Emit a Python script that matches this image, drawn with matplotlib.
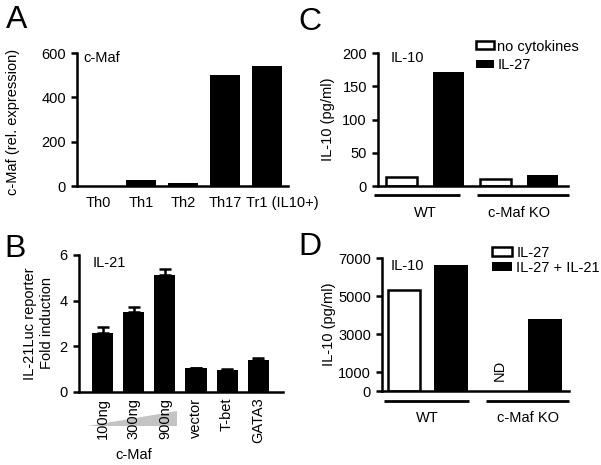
import numpy as np
import matplotlib
matplotlib.use("Agg")
import matplotlib.pyplot as plt
import matplotlib.transforms as mtransforms
from matplotlib.patches import Polygon

plt.rcParams["font.family"] = ["Liberation Sans", "DejaVu Sans"]
plt.rcParams["font.size"] = 10.5

# Panel A: c-Maf expression
cellA = ["Th0", "Th1", "Th2", "Th17", "Tr1 (IL10+)"]
valA = [2, 28, 15, 500, 540]

# Panel B: IL-21 luciferase reporter
condB = ["100ng", "300ng", "900ng", "vector", "T-bet", "GATA3"]
valB = [2.6, 3.5, 5.1, 1.05, 0.97, 1.4]
errB = [0.25, 0.22, 0.27, 0.0, 0.03, 0.1]

# Panel C: IL-10 with / without IL-27
groupsC = ["WT", "c-Maf KO"]
noCyt = [14, 10]
il27C = [171, 17]

# Panel D: IL-10, IL-27 vs IL-27 + IL-21 (KO IL-27 not detected)
groupsD = ["WT", "c-Maf KO"]
il27D = [5300, np.nan]
il27il21D = [6650, 3800]

fig = plt.figure(figsize=(6.01, 4.65), dpi=100)

def estilo(ax):
    ax.spines["top"].set_visible(False)
    ax.spines["right"].set_visible(False)
    ax.spines["left"].set_linewidth(1.8)
    ax.spines["bottom"].set_linewidth(1.8)
    ax.tick_params(axis="y", width=1.8, length=4, pad=4)
    ax.tick_params(axis="x", length=0, pad=7)

# ---------- A ----------
axA = fig.add_axes([0.128, 0.600, 0.351, 0.286])
xA = np.arange(len(cellA))
axA.bar(xA, valA, width=0.72, color="black")
axA.set_xlim(-0.52, 4.5)
axA.set_ylim(0, 600)
axA.set_yticks([0, 200, 400, 600])
axA.set_xticks(xA)
axA.set_xticklabels(cellA)
estilo(axA)
# la ultima etiqueta empieza en el borde izquierdo de la barra
ult = axA.get_xticklabels()[-1]
ult.set_horizontalalignment("left")
ult.set_transform(ult.get_transform() +
                  mtransforms.ScaledTranslation(-0.21, 0, fig.dpi_scale_trans))
axA.set_ylabel("c-Maf (rel. expression)")
axA.yaxis.set_label_coords(-0.27, 0.48)
axA.text(0.03, 0.96, "c-Maf", transform=axA.transAxes, va="center", ha="left")

# ---------- B ----------
axB = fig.add_axes([0.131, 0.157, 0.340, 0.295])
xB = np.arange(len(condB))
axB.bar(xB, valB, width=0.68, color="black")
axB.errorbar(xB, valB, yerr=[np.zeros(len(errB)), errB], fmt="none",
             ecolor="black", elinewidth=1.8, capsize=4, capthick=1.8)
axB.set_xlim(-0.77, 5.8)
axB.set_ylim(0, 6)
axB.set_yticks([0, 2, 4, 6])
axB.set_xticks(xB)
axB.set_xticklabels(condB, rotation=90)
estilo(axB)
axB.tick_params(axis="x", pad=4)
axB.set_ylabel("IL-21Luc reporter\nFold induction", linespacing=1.3)
axB.yaxis.set_label_coords(-0.12, 0.5)
axB.text(0.07, 0.94, "IL-21", transform=axB.transAxes, va="center", ha="left")
trB = mtransforms.blended_transform_factory(axB.transData, axB.transAxes)
cuña = Polygon([[-0.48, -0.245], [2.39, -0.245], [2.39, -0.14]],
               closed=True, transform=trB, clip_on=False,
               facecolor="#c4c4c4", edgecolor="none", zorder=0)
axB.add_patch(cuña)
axB.text(1.0, -0.46, "c-Maf", transform=trB, ha="center", va="center")

# ---------- C ----------
axC = fig.add_axes([0.629, 0.600, 0.316, 0.286])
xC = np.arange(len(groupsC))
axC.bar(xC - 0.25, noCyt, width=0.33, facecolor="white", edgecolor="black",
        linewidth=1.8, label="no cytokines")
axC.bar(xC + 0.25, il27C, width=0.33, color="black", label="IL-27")
axC.set_xlim(-0.5, 1.52)
axC.set_ylim(0, 200)
axC.set_yticks([0, 50, 100, 150, 200])
axC.set_xticks([])
estilo(axC)
axC.set_ylabel("IL-10 (pg/ml)")
axC.yaxis.set_label_coords(-0.226, 0.5)
axC.text(0.065, 0.96, "IL-10", transform=axC.transAxes, va="center", ha="left")
trC = mtransforms.blended_transform_factory(axC.transData, axC.transAxes)
for (a, b), g, c in zip([(-0.54, 0.37), (0.55, 1.53)], groupsC, xC):
    axC.plot([a, b], [-0.068, -0.068], color="black", lw=2, transform=trC,
             clip_on=False, solid_capstyle="butt")
    axC.text(c, -0.2, g, transform=trC, ha="center", va="center")
axC.legend(loc="upper left", bbox_to_anchor=(0.792, 0.915),
           bbox_transform=fig.transFigure, frameon=False, borderpad=0,
           handlelength=1.25, handleheight=0.45, handletextpad=0.2,
           labelspacing=0.3, borderaxespad=0)

# ---------- D ----------
axD = fig.add_axes([0.636, 0.159, 0.311, 0.286])
xD = np.arange(len(groupsD))
axD.bar(xD - 0.25, il27D, width=0.34, facecolor="white", edgecolor="black",
        linewidth=1.8, label="IL-27")
axD.bar(xD + 0.25, il27il21D, width=0.36, color="black", label="IL-27 + IL-21")
axD.set_xlim(-0.48, 1.51)
axD.set_ylim(0, 7000)
axD.set_yticks([0, 1000, 3000, 5000, 7000])
axD.set_xticks([])
estilo(axD)
axD.set_ylabel("IL-10 (pg/ml)")
axD.yaxis.set_label_coords(-0.25, 0.5)
axD.text(0.045, 0.94, "IL-10", transform=axD.transAxes, va="center", ha="left")
axD.text(0.77, 1100, "ND", rotation=90, ha="center", va="center")
trD = mtransforms.blended_transform_factory(axD.transData, axD.transAxes)
for (a, b), g, c in zip([(-0.46, 0.44), (0.62, 1.51)], groupsD, xD):
    axD.plot([a, b], [-0.075, -0.075], color="black", lw=2, transform=trD,
             clip_on=False, solid_capstyle="butt")
    axD.text(c + (0 if c == 0 else 0.07), -0.2, g, transform=trD,
             ha="center", va="center")
axD.legend(loc="upper left", bbox_to_anchor=(0.818, 0.472),
           bbox_transform=fig.transFigure, frameon=False, borderpad=0,
           handlelength=1.4, handleheight=0.6, handletextpad=0.3,
           labelspacing=0.1, borderaxespad=0)

# letras de los paneles
fig.text(0.010, 0.940, "A", fontsize=23)
fig.text(0.008, 0.447, "B", fontsize=23)
fig.text(0.497, 0.935, "C", fontsize=23)
fig.text(0.497, 0.452, "D", fontsize=23)

fig.savefig("out.png", dpi=100)
